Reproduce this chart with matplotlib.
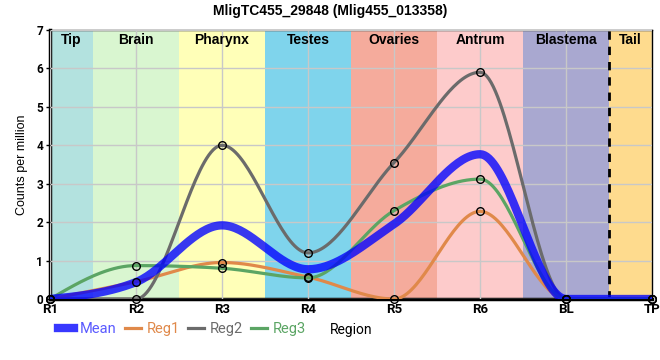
import numpy as np
import matplotlib
matplotlib.use("Agg")
import matplotlib.pyplot as plt
from matplotlib.lines import Line2D

# data
regions = ["R1", "R2", "R3", "R4", "R5", "R6", "BL", "TP"]
reg1 = [0, 0.45, 0.95, 0.57, 0, 2.28, 0, 0]
reg2 = [0, 0, 4.0, 1.2, 3.55, 5.9, 0, 0]
reg3 = [0, 0.87, 0.8, 0.55, 2.3, 3.12, 0, 0]
mean = list(np.mean([reg1, reg2, reg3], axis=0))

zones = ["Tip", "Brain", "Pharynx", "Testes", "Ovaries", "Antrum", "Blastema", "Tail"]
zone_colors = ["#b3e2df", "#d9f6d0", "#ffffb8", "#7fd4ec", "#f5ab9c", "#fdcbcb", "#a9a8d0", "#fedb8e"]
zone_edges = [0, 0.5, 1.5, 2.5, 3.5, 4.5, 5.5, 6.5, 7]


def monotone_x(x, y, n=40):
    # same as d3.curveMonotoneX
    x = np.asarray(x, float)
    y = np.asarray(y, float)
    k = len(x)
    h = np.diff(x)
    s = np.diff(y) / h
    t = np.zeros(k)
    for i in range(1, k - 1):
        p = (s[i - 1] * h[i] + s[i] * h[i - 1]) / (h[i - 1] + h[i])
        t[i] = (np.sign(s[i - 1]) + np.sign(s[i])) * min(abs(s[i - 1]), abs(s[i]), 0.5 * abs(p))
    t[0] = (3 * s[0] - t[1]) / 2
    t[-1] = (3 * s[-1] - t[-2]) / 2
    xs, ys = [], []
    for i in range(k - 1):
        u = np.linspace(0, 1, n)
        h00 = 2 * u**3 - 3 * u**2 + 1
        h10 = u**3 - 2 * u**2 + u
        h01 = -2 * u**3 + 3 * u**2
        h11 = u**3 - u**2
        xs.append(x[i] + u * h[i])
        ys.append(h00 * y[i] + h10 * h[i] * t[i] + h01 * y[i + 1] + h11 * h[i] * t[i + 1])
    return np.concatenate(xs), np.concatenate(ys)


fig = plt.figure(figsize=(6.6, 3.6), dpi=100)
ax = fig.add_axes([0.0758, 0.1694, 0.9122, 0.7473])
xpos = np.arange(len(regions))

for i in range(len(zones)):
    ax.axvspan(zone_edges[i], zone_edges[i + 1], color=zone_colors[i], zorder=0, lw=0)
    ax.text((zone_edges[i] + zone_edges[i + 1]) / 2, 6.93, zones[i], ha="center", va="top",
            fontsize=10, fontweight="bold", family="Liberation Sans", zorder=5)

ax.grid(True, color="#c8c8c8", lw=1, zorder=1)
ax.set_axisbelow(False)
for gl in ax.get_xgridlines() + ax.get_ygridlines():
    gl.set_zorder(1)

ax.axvline(6.5, color="black", ls=(0, (3, 2.5)), lw=2, zorder=3)

series = [("Reg1", reg1, "#e0894a"), ("Reg2", reg2, "#6b6b6b"), ("Reg3", reg3, "#5ba564")]
for name, vals, col in series:
    sx, sy = monotone_x(xpos, vals)
    ax.plot(sx, sy, color=col, lw=2.3, zorder=4, solid_capstyle="round")
mx, my = monotone_x(xpos, mean)
ax.plot(mx, my, color="#0000ff", lw=6, alpha=0.78, zorder=4)
for name, vals, col in series:
    ax.plot(xpos, vals, ls="none", marker="o", ms=5.5, mfc="none", mec="black", mew=1, zorder=6,
            clip_on=False)

ax.set_xlim(0, 7)
ax.set_ylim(0, 7)
ax.set_xticks(xpos)
ax.set_xticklabels(regions, fontsize=9.5, fontweight="bold", family="Roboto")
ax.set_yticks(range(8))
ax.set_yticklabels([str(v) for v in range(8)], fontsize=8.5, fontweight="bold", family="Roboto")
ax.tick_params(axis="both", length=3, width=1, pad=2)
ax.tick_params(axis="x", length=0, pad=3)
for side in ["left", "bottom"]:
    ax.spines[side].set_linewidth(2.5)
for side in ["top", "right"]:
    ax.spines[side].set_linewidth(1)

ax.set_ylabel("Counts per million", fontsize=9, family="Liberation Sans", labelpad=6)
ax.set_xlabel("Region", fontsize=10, family="Roboto", labelpad=5)
fig.suptitle("MligTC455_29848 (Mlig455_013358)", x=0.5, y=0.99, fontsize=10, fontweight="bold",
             family="Liberation Sans")

handles = [Line2D([], [], color="#0000ff", lw=6, alpha=0.78),
           Line2D([], [], color="#e0894a", lw=2.3),
           Line2D([], [], color="#6b6b6b", lw=2.3),
           Line2D([], [], color="#5ba564", lw=2.3)]
leg = fig.legend(handles, ["Mean", "Reg1", "Reg2", "Reg3"], loc="center left",
                 bbox_to_anchor=(0.068, 0.085), ncol=4, frameon=False, handlelength=1.1,
                 handletextpad=0.4, columnspacing=0.55, prop={"family": "Roboto", "size": 10.5})
for txt, col in zip(leg.get_texts(), ["#5a5aff", "#e0894a", "#6b6b6b", "#5ba564"]):
    txt.set_color(col)

fig.savefig("out.png", dpi=100)
